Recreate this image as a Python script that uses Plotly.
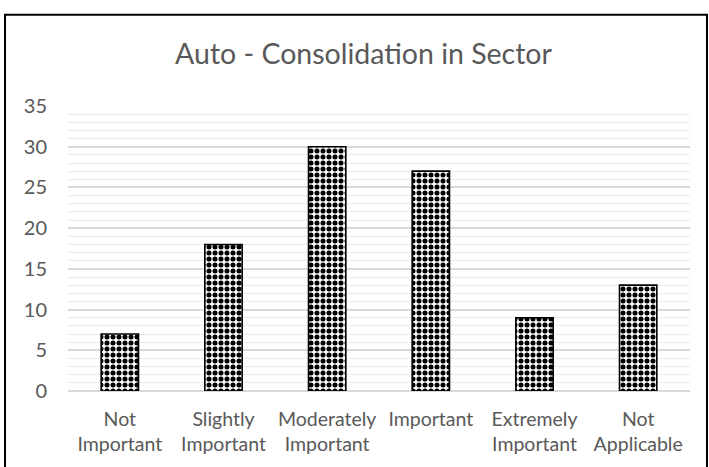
import plotly.graph_objects as go

# Survey responses: importance of consolidation in the auto sector
categories = ["Not<br>Important", "Slightly<br>Important", "Moderately<br>Important",
              "Important", "Extremely<br>Important", "Not<br>Applicable"]
counts = [7, 18, 30, 27, 9, 13]
y_ticks = [0, 5, 10, 15, 20, 25, 30, 35]

W, H = 709, 467
L, R, T, B = 68, 19, 105.5, 76
font_family = "Lato, 'Open Sans', sans-serif"
text_color = "#595959"

fig = go.Figure(
    go.Bar(
        x=categories,
        y=counts,
        marker=dict(
            color="white",
            line=dict(color="black", width=1.6),
            pattern=dict(shape=".", fgcolor="black", bgcolor="white",
                         size=6, solidity=0.55, fillmode="replace"),
        ),
        hoverinfo="x+y",
    )
)

# outer chart border (left, top, right edges; bottom runs off the canvas)
pw, ph = W - L - R, H - T - B
def px(x):
    return (x - L) / pw
def py(y):
    return (H - B - y) / ph

fig.add_shape(type="rect", xref="paper", yref="paper",
              x0=px(5), x1=px(707), y0=py(470), y1=py(14),
              line=dict(color="black", width=2), fillcolor="rgba(0,0,0,0)",
              layer="above")

fig.update_layout(
    width=W, height=H,
    margin=dict(l=L, r=R, t=T, b=B, autoexpand=False),
    paper_bgcolor="white", plot_bgcolor="white",
    bargap=0.64,
    showlegend=False,
    font=dict(family=font_family, color=text_color, size=19),
    title=dict(text="Auto - Consolidation in Sector",
               x=363.5 / W, xanchor="center", xref="container",
               y=1 - 54 / H, yanchor="middle", yref="container",
               font=dict(family=font_family, size=28.5, color=text_color)),
    xaxis=dict(showgrid=False, showline=False, zeroline=False, ticks="",
               tickfont=dict(size=19.5, color=text_color),
               ticklabelstandoff=14),
    yaxis=dict(range=[0, 35], tickvals=y_ticks, ticks="",
               showline=False, zeroline=True, zerolinecolor="#d9d9d9",
               zerolinewidth=1.5,
               showgrid=True, gridcolor="#d9d9d9", gridwidth=1.5,
               minor=dict(dtick=1, showgrid=True, gridcolor="#ebebeb", gridwidth=1.2),
               tickfont=dict(size=20, color=text_color),
               ticklabelstandoff=20),
)

fig.write_html("out.html")
